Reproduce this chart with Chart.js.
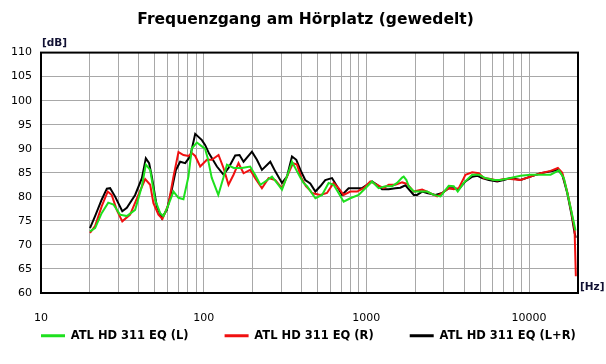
<!DOCTYPE html>
<html>
<head>
<meta charset="utf-8">
<script src="https://cdn.jsdelivr.net/npm/chart.js@4.4.0/dist/chart.umd.min.js"></script>
<style>
html,body{margin:0;padding:0;background:#fff;}
#wrap{width:606px;height:364px;}
</style>
</head>
<body>
<div id="wrap"><canvas id="c" width="606" height="364"></canvas></div>
<script>
const titleText = 'Frequenzgang am Hörplatz (gewedelt)';
const seriesNames = ['ATL HD 311 EQ (L)', 'ATL HD 311 EQ (R)', 'ATL HD 311 EQ (L+R)'];
const yUnit = '[dB]';
const xUnit = '[Hz]';

// Green: left channel
const freqL = [20,21.5,23.6,25.9,27.9,30.6,33.7,37.9,41.7,44.1,46.9,50.3,54,56.6,60.2,65.2,70,75.1,80.6,84.6,90.8,97.5,102,106,112,123,132,139,153,172,193,207,223,239,263,282,303,328,349,375,393,411,432,486,534,586,629,675,725,797,897,986,1084,1190,1309,1439,1545,1659,1697,1763,1821,1956,2202,2363,2596,2854,3210,3445,3646,3970,4472,4911,5399,6072,6676,7695,8867,10213,11771,13564,15260,16375,17575,18870,19300];
const levelL = [72.8,73.5,76.6,78.8,78.4,76.3,76.0,77.3,82.2,86.7,85.6,79.4,76.6,76.0,78.0,81.1,79.8,79.5,84.2,90.1,91.3,90.5,90.0,88.0,84.0,80.4,83.9,86.7,86.0,86.0,86.3,84.6,82.5,83.2,84.2,82.9,81.5,84.6,87.3,85.3,84.0,82.9,82.2,79.7,80.4,82.9,82.5,80.8,79.0,79.7,80.4,81.8,83.2,81.8,82.2,82.2,82.9,84.0,84.2,83.5,82.2,81.1,81.1,81.1,80.4,80.1,82.3,82.2,81.1,82.9,84.6,84.6,83.9,83.5,83.5,83.9,84.4,84.6,84.6,84.6,85.5,83.9,79.4,74.6,73.0];

// Red: right channel
const freqR = [20,21.5,23.6,25.7,27.2,29.2,31.6,35.3,39.7,43.7,46.9,49.1,52.7,55.8,60.7,65.2,70,75.1,80.6,84.6,88.7,95.2,104.6,112.3,123.4,132.4,142.1,152.6,163.7,175.8,193.3,207.4,228.1,250.6,275.4,302.9,325.1,354,374.6,398,425,452,463,521,573,629,675,725,797,877,962,1058,1164,1278,1372,1508,1659,1780,1956,2202,2363,2724,2924,3210,3445,3698,4066,4472,4911,5270,5795,6375,6995,7695,8867,10213,11771,13564,15040,16005,17180,18180,19055,19400];
const levelR = [72.5,73.9,78.0,81.1,80.4,77.3,74.9,76.3,80.4,83.7,82.5,78.7,76.3,75.4,78.4,84.2,89.3,88.7,88.5,89.1,88.5,86.3,87.7,87.7,88.7,86.0,82.5,84.6,87.0,84.9,85.6,83.9,81.8,83.9,83.5,81.8,84.2,87.0,86.7,84.0,82.2,81.3,80.8,80.4,80.8,82.9,81.8,80.4,81.1,81.1,81.8,83.2,82.5,81.8,82.5,82.5,83.0,82.7,81.1,81.5,81.1,80.1,80.8,81.8,81.6,81.8,84.6,85.1,84.9,83.9,83.7,83.4,83.7,83.7,83.5,84.2,84.9,85.4,86.0,85.0,81.0,77.0,73.2,63.5];

// Black: L+R
const freqLR = [20,21.5,23.6,25.4,26.6,28.5,31.6,33.7,37.9,41.7,44.1,46.2,48,51.5,55.3,59.4,63.7,67.5,71.7,77,82.6,88.7,97.5,102,108,120.6,132.4,142.1,156.3,166.1,175.8,198,212.5,228.1,256.7,275.4,302.9,325.1,349,371,393,421,452,486,521,559,615,660,709,778,856,941,1010,1084,1164,1249,1372,1508,1619,1738,1956,2051,2202,2363,2659,2924,3210,3445,3698,4066,4472,4800,5152,5656,6375,6995,7695,8867,10213,11771,13564,15040,16005,17180,18180,19055,19400];
const levelLR = [73.5,76.0,79.4,81.7,81.8,80.1,77.0,77.7,80.4,83.9,88.0,87.0,84.2,78.0,75.6,77.3,81.5,85.6,87.3,87.0,88.4,93.1,91.8,90.8,89.0,86.3,84.6,86.0,88.6,88.7,87.3,89.4,87.7,85.6,87.3,85.3,82.9,84.2,88.4,87.7,85.6,83.5,82.8,81.1,82.2,83.5,83.9,82.2,80.4,81.8,81.8,81.8,82.5,83.2,82.5,81.6,81.6,81.8,81.9,82.4,80.4,80.4,81.1,80.8,80.4,80.8,81.8,81.8,81.6,83.2,84.2,84.4,83.9,83.5,83.2,83.5,83.9,83.5,84.2,84.9,85.3,85.6,84.6,80.8,76.6,72.5,71.5];

const xGridValues = [10,20,30,40,50,60,70,80,90,100,200,300,400,500,600,700,800,900,1000,2000,3000,4000,5000,6000,7000,8000,9000,10000,20000];
const xLabelValues = [10,100,1000,10000];
const yMin = 60, yMax = 110, yStep = 5;
const xMin = 10, xMax = 20000;

const toPoints = (fs, vs) => fs.map((f, i) => ({x: f, y: vs[i]}));

const legendGap = 36;

// Keeps the legend in one row below the axis labels, with wide gaps between items.
const legendPlacer = {
  id: 'legendPlacer',
  beforeLayout(chart) {
    const lg = chart.legend;
    if (lg && !lg._patched) {
      const origFit = lg.fit;
      lg.fit = function () {
        const mw = this.maxWidth;
        this.maxWidth = 5000;
        origFit.call(this);
        this.maxWidth = mw;
        this.height = 0;
      };
      lg._patched = true;
    }
  },
  afterLayout(chart) {
    const lg = chart.legend;
    if (!lg) return;
    lg.left = chart.chartArea.left - legendGap;
    lg.right = 900;
    lg.width = lg.right - lg.left;
    lg.top = chart.chartArea.bottom + 1;
    lg.height = 60;
    lg.bottom = lg.top + lg.height;
  }
};

const frame = {
  id: 'frame',
  afterDraw(chart) {
    const {ctx, chartArea: a} = chart;
    ctx.save();
    ctx.strokeStyle = '#000';
    ctx.lineWidth = 2;
    ctx.strokeRect(a.left, a.top, a.right - a.left, a.bottom - a.top);
    ctx.fillStyle = '#111133';
    ctx.font = 'bold 10.5px "DejaVu Sans"';
    ctx.textBaseline = 'middle';
    ctx.textAlign = 'left';
    ctx.fillText(yUnit, a.left + 1, a.top - 9);
    ctx.fillText(xUnit, a.right + 2, a.bottom - 6);
    ctx.restore();
  }
};

const tickFont = {family: 'DejaVu Sans', size: 11};

new Chart(document.getElementById('c'), {
  type: 'line',
  data: {
    datasets: [
      {label: seriesNames[0], data: toPoints(freqL, levelL), borderColor: '#1ee01e', backgroundColor: '#1ee01e', borderWidth: 2, pointRadius: 0, tension: 0},
      {label: seriesNames[1], data: toPoints(freqR, levelR), borderColor: '#f01010', backgroundColor: '#f01010', borderWidth: 2, pointRadius: 0, tension: 0},
      {label: seriesNames[2], data: toPoints(freqLR, levelLR), borderColor: '#000000', backgroundColor: '#000000', borderWidth: 2, pointRadius: 0, tension: 0}
    ]
  },
  options: {
    responsive: false,
    animation: false,
    devicePixelRatio: 1,
    layout: {padding: {left: 5, right: 0, top: 0, bottom: 38}},
    plugins: {
      title: {
        display: true, text: titleText, color: '#000',
        font: {family: 'DejaVu Sans', size: 15.5, weight: 'bold'},
        padding: {top: 11, bottom: 23}
      },
      legend: {
        position: 'bottom', align: 'start',
        labels: {
          boxWidth: 24, boxHeight: 3, padding: legendGap, color: '#000',
          font: {family: 'DejaVu Sans', size: 11.5, weight: 'bold'},
          generateLabels: (chart) => Chart.defaults.plugins.legend.labels.generateLabels(chart).map(l => Object.assign(l, {lineWidth: 0}))
        }
      },
      tooltip: {enabled: false}
    },
    scales: {
      x: {
        type: 'logarithmic', min: xMin, max: xMax,
        afterBuildTicks: (s) => { s.ticks = xGridValues.map(v => ({value: v})); },
        afterFit: (s) => { s.height = 33; },
        ticks: {
          autoSkip: false, maxRotation: 0, padding: 19, color: '#000', font: tickFont,
          callback: (v) => xLabelValues.includes(v) ? String(v) : ''
        },
        grid: {color: '#a8a8a8', lineWidth: 1, drawTicks: false},
        border: {display: false}
      },
      y: {
        min: yMin, max: yMax,
        afterFit: (s) => { s.width = 36; },
        ticks: {stepSize: yStep, padding: 9, color: '#000', font: tickFont},
        grid: {color: '#a8a8a8', lineWidth: 1, drawTicks: false},
        border: {display: false}
      },
      y2: {
        position: 'right', min: yMin, max: yMax,
        afterFit: (s) => { s.width = 28; },
        ticks: {display: false},
        grid: {display: false},
        border: {display: false}
      }
    }
  },
  plugins: [legendPlacer, frame]
});
</script>
</body>
</html>
